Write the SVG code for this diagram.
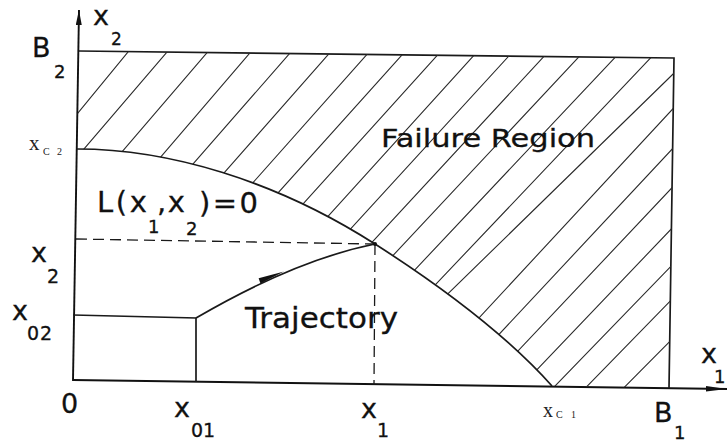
<svg xmlns="http://www.w3.org/2000/svg" width="727" height="442" viewBox="0 0 727 442">
<style>
.ln{stroke:#1a1a1a;stroke-width:1.7;fill:none}
.ax{stroke:#111;stroke-width:1.9;fill:none}
.ht{stroke:#2a2a2a;stroke-width:1.1;fill:none}
.ds{stroke:#1a1a1a;stroke-width:1.3;fill:none;stroke-dasharray:11 6}
.t{font-family:"DejaVu Sans","Liberation Sans",Arial,sans-serif;fill:#111;stroke:#111;stroke-width:0.3}
.s{font-family:"Liberation Serif","Times New Roman",serif;fill:#222}
</style>
<defs>
<marker id="arrY" markerUnits="userSpaceOnUse" markerWidth="16" markerHeight="6" refX="15" refY="3" orient="auto">
<path d="M0,0 L15,3 L0,6 Z" fill="#111"/>
</marker>
<marker id="arrX" markerUnits="userSpaceOnUse" markerWidth="22" markerHeight="6" refX="21" refY="3" orient="auto">
<path d="M0,0.3 L21,3 L0,5.7 Z" fill="#111"/>
</marker>
<clipPath id="fail">
<path d="M79,51 L674,58 L669,388 L552,386 C502,330 435,282.4 375,244 C275,180 168,149 77,149 Z"/>
</clipPath>
</defs>
<rect width="727" height="442" fill="#fff"/>

<g id="axes">
<line class="ax" x1="73" y1="381" x2="79" y2="10" marker-end="url(#arrY)"/>
<line class="ax" x1="73" y1="380" x2="727" y2="389" marker-end="url(#arrX)"/>
</g>

<g id="region-box">
<path class="ln" d="M79,51 L674,58 L669,388"/>
</g>

<g id="hatching" clip-path="url(#fail)">
<path class="ht" d="
M148,27.6 L-172,418
M187,28.7 L-113,378.8
M227,29.4 L-73,379.2
M270,29.5 L-30,379.5
M309,31.3 L9,374.5
M348,32.1 L48,372.9
M386,33.0 L86,370.4
M421,33.8 L121,367.7
M456,34.6 L156,366.7
M492,35.4 L192,366.4
M527,36.2 L227,363.9
M562,36.9 L262,361.2
M597,37.5 L297,358.1
M633,38.4 L333,356.7
M669,38.5 L369,354.7
M694,53.6 L394,346.4
M693,87.2 L393,410.6
M693,126.8 L393,447.8
M692,166.6 L392,484.4
M691,208.3 L391,522.6
M691,245.6 L391,555.4
M690,280.8 L390,588.3
M690,321 L390,623.8
"/>
</g>

<g id="boundary">
<path class="ln" d="M77,149 C168,149 275,180 375,244 C435,282.4 502,330 552,386"/>
</g>

<g id="connectors">
<line class="ds" x1="76" y1="239" x2="375" y2="244"/>
<line class="ds" x1="375" y1="244" x2="374" y2="385"/>
<path class="ln" d="M73,315 L196,318 L196,382"/>
<path class="ln" d="M196,318 C256,283 315,256 375,244"/>
<polygon points="284,271.5 260.5,283.6 258.6,278.2" fill="#111"/>
<circle cx="375" cy="244" r="2" fill="#111"/>
</g>

<g id="labels">
<text class="t" x="32" y="57" font-size="27">B</text>
<text class="t" x="54" y="78" font-size="18">2</text>
<text class="t" x="93" y="25" font-size="27">x</text>
<text class="t" x="111" y="45" font-size="17">2</text>
<text class="s" x="29" y="150" font-size="21">x</text>
<text class="s" x="43" y="155" font-size="10" textLength="19" lengthAdjust="spacing">C2</text>
<text class="t" x="97" y="212" font-size="29" textLength="50" lengthAdjust="spacing">L(x</text>
<text class="t" x="148" y="233" font-size="18">1</text>
<text class="t" x="157" y="212" font-size="29" textLength="28" lengthAdjust="spacing">,x</text>
<text class="t" x="186" y="235" font-size="18">2</text>
<text class="t" x="199" y="213" font-size="29" textLength="59" lengthAdjust="spacing">)=0</text>
<text class="t" x="31" y="262" font-size="27">x</text>
<text class="t" x="47" y="283" font-size="19">2</text>
<text class="t" x="12" y="320" font-size="27">x</text>
<text class="t" x="27" y="340" font-size="19" textLength="25" lengthAdjust="spacing">02</text>
<text class="t" x="61" y="413" font-size="27">0</text>
<text class="t" x="174" y="417" font-size="27">x</text>
<text class="t" x="191" y="437" font-size="19" textLength="24" lengthAdjust="spacing">01</text>
<text class="t" x="361" y="418" font-size="27">x</text>
<text class="t" x="377" y="437" font-size="19">1</text>
<text class="s" x="543" y="417" font-size="20">x</text>
<text class="s" x="556" y="418" font-size="10" textLength="20" lengthAdjust="spacing">C1</text>
<text class="t" x="654" y="422" font-size="27">B</text>
<text class="t" x="674" y="439" font-size="18">1</text>
<text class="t" x="701" y="363" font-size="27">x</text>
<text class="t" x="714" y="383" font-size="18">1</text>
<text class="t" x="381" y="147" font-size="25" textLength="214" lengthAdjust="spacingAndGlyphs">Failure Region</text>
<text class="t" x="245" y="328" font-size="29" textLength="153" lengthAdjust="spacingAndGlyphs">Trajectory</text>
</g>
</svg>
